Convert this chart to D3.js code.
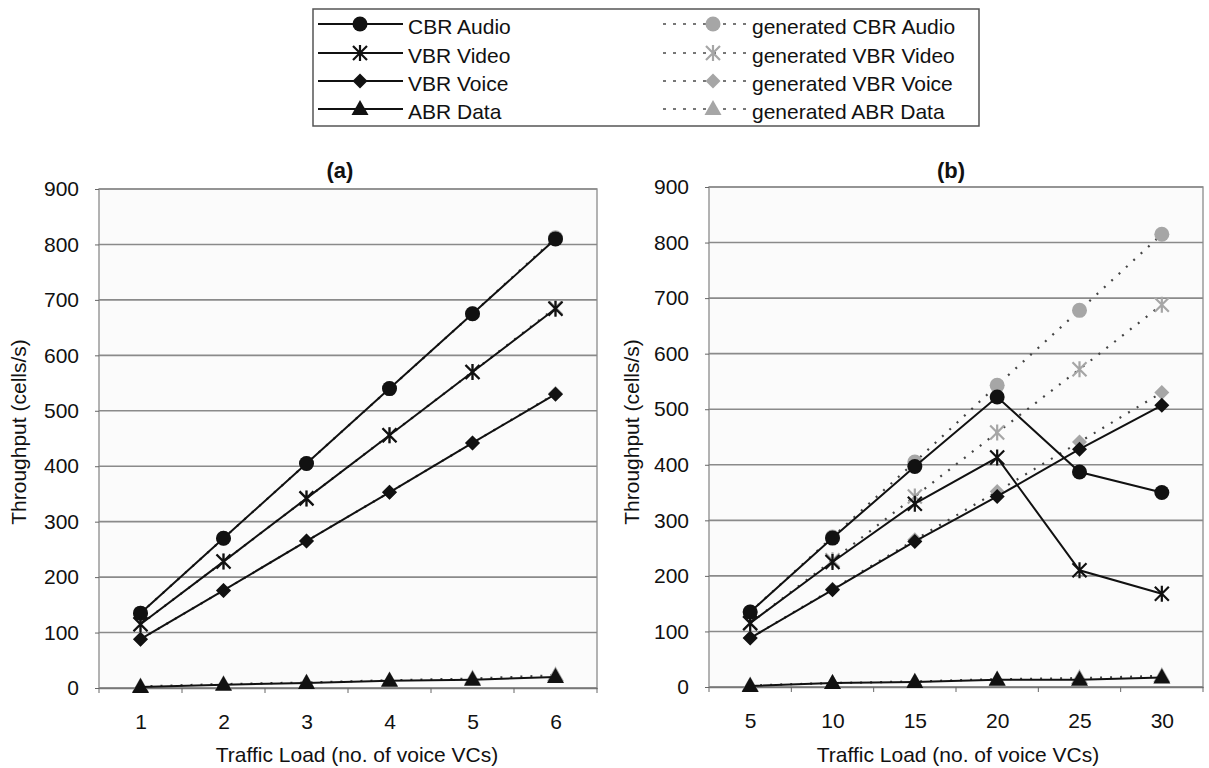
<!DOCTYPE html>
<html><head><meta charset="utf-8">
<script src="https://cdn.jsdelivr.net/npm/d3@7"></script>
<style>
body{margin:0;background:#fff;}
text{font-family:"Liberation Sans",Arial,sans-serif;fill:#111;}
</style></head><body>
<svg id="c" width="1209" height="768"></svg>
<script>
// ---- data ----
const seriesNames = ["CBR Audio","VBR Video","VBR Voice","ABR Data"];
const genNames = ["generated CBR Audio","generated VBR Video","generated VBR Voice","generated ABR Data"];
const yTicks = [0,100,200,300,400,500,600,700,800,900];

const catsA = [1,2,3,4,5,6];
const aCBR   = [135,270,405,540,675,810];
const aVideo = [115,228,342,456,570,684];
const aVoice = [88,176,265,353,442,530];
const aData  = [2,6,9,13,15,20];
const aGenCBR   = [135,270,405,540,675,812];
const aGenVideo = [115,228,342,456,570,686];
const aGenVoice = [88,176,265,353,442,531];
const aGenData  = [3,7,10,14,17,23];

const catsB = [5,10,15,20,25,30];
const bCBR   = [135,268,397,522,387,350];
const bVideo = [115,225,330,413,210,168];
const bVoice = [88,175,262,343,428,507];
const bData  = [2,7,9,13,13,17];
const bGenCBR   = [135,270,405,543,678,815];
const bGenVideo = [115,228,343,458,572,688];
const bGenVoice = [88,176,265,352,441,530];
const bGenData  = [3,7,10,14,16,20];

const svg = d3.select("#c");
const markerTypes = ["circle","star","diamond","triangle"];

function drawMarker(g, type, x, y, fill, stroke) {
  if (type === "circle") {
    g.append("circle").attr("cx", x).attr("cy", y).attr("r", 7.5).attr("fill", fill);
  } else if (type === "diamond") {
    const s = 7.5;
    g.append("path").attr("d", `M${x},${y-s}L${x+s},${y}L${x},${y+s}L${x-s},${y}Z`).attr("fill", fill);
  } else if (type === "triangle") {
    g.append("path").attr("d", `M${x},${y-9}L${x+8.5},${y+6}L${x-8.5},${y+6}Z`).attr("fill", fill);
  } else if (type === "star") {
    const s = 7;
    const p = `M${x-s},${y-s}L${x+s},${y+s}M${x-s},${y+s}L${x+s},${y-s}M${x},${y-s-1}L${x},${y+s+1}`;
    g.append("path").attr("d", p).attr("stroke", stroke).attr("stroke-width", 2.2).attr("fill", "none");
  }
}

function panel(cfg) {
  const g = svg.append("g");
  const x = d3.scalePoint().domain(cfg.cats).range([cfg.left, cfg.right]).padding(0.5);
  const y = d3.scaleLinear().domain([0, 900]).range([cfg.bottom, cfg.top]);
  g.append("rect").attr("x", cfg.left).attr("y", cfg.top).attr("width", cfg.right - cfg.left)
    .attr("height", cfg.bottom - cfg.top).attr("fill", "#fbfbfb").attr("stroke", "#9a9a9a").attr("stroke-width", 1.5);
  g.selectAll(".grid").data(yTicks).enter().append("line")
    .attr("x1", cfg.left).attr("x2", cfg.right).attr("y1", d => y(d)).attr("y2", d => y(d))
    .attr("stroke", "#8a8a8a").attr("stroke-width", 1.6);
  const ya = g.append("g").attr("transform", `translate(${cfg.left},0)`)
    .call(d3.axisLeft(y).tickValues(yTicks).tickSize(4).tickPadding(16));
  ya.select(".domain").remove();
  ya.selectAll("line").attr("stroke", "#666");
  ya.selectAll("text").style("font-size", "21px").attr("fill", "#111");
  const xa = g.append("g").attr("transform", `translate(0,${cfg.bottom})`)
    .call(d3.axisBottom(x).tickSize(0).tickPadding(26));
  xa.select(".domain").attr("stroke", "#777").attr("stroke-width", 1.5);
  xa.selectAll("text").style("font-size", "21px").attr("fill", "#111");
  const step = x.step();
  g.selectAll(".xt").data(cfg.cats).enter().append("line")
    .attr("x1", d => x(d) + step / 2).attr("x2", d => x(d) + step / 2)
    .attr("y1", cfg.bottom).attr("y2", cfg.bottom + 5).attr("stroke", "#666");
  g.append("line").attr("x1", cfg.left).attr("x2", cfg.left).attr("y1", cfg.bottom).attr("y2", cfg.bottom + 5).attr("stroke", "#666");

  const line = d3.line().x((d, i) => x(cfg.cats[i])).y(d => y(d));
  cfg.gen.forEach((vals, si) => {
    g.append("path").attr("d", line(vals)).attr("fill", "none").attr("stroke", "#444")
      .attr("stroke-width", 2.2).attr("stroke-dasharray", "2,8");
    vals.forEach((v, i) => drawMarker(g, markerTypes[si], x(cfg.cats[i]), y(v), "#a6a6a6", "#a6a6a6"));
  });
  cfg.series.forEach((vals, si) => {
    g.append("path").attr("d", line(vals)).attr("fill", "none").attr("stroke", "#111").attr("stroke-width", 2);
    vals.forEach((v, i) => drawMarker(g, markerTypes[si], x(cfg.cats[i]), y(v), "#111", "#111"));
  });
  g.append("text").attr("x", cfg.titleX).attr("y", 172).attr("text-anchor", "middle")
    .attr("dominant-baseline", "middle").style("font-size", "22px").style("font-weight", "bold").text(cfg.title);
  g.append("text").attr("x", cfg.xTitleX).attr("y", 756).attr("text-anchor", "middle")
    .attr("dominant-baseline", "middle").style("font-size", "21px").text("Traffic Load (no. of voice VCs)");
  g.append("text").attr("transform", `translate(${cfg.yTitleX},432) rotate(-90)`).attr("text-anchor", "middle")
    .attr("dominant-baseline", "middle").style("font-size", "21px").text("Throughput (cells/s)");
}

panel({cats: catsA, left: 99, right: 597, top: 189, bottom: 688,
  series: [aCBR, aVideo, aVoice, aData], gen: [aGenCBR, aGenVideo, aGenVoice, aGenData],
  title: "(a)", titleX: 340, xTitleX: 357, yTitleX: 20});
panel({cats: catsB, left: 709, right: 1203, top: 187, bottom: 687,
  series: [bCBR, bVideo, bVoice, bData], gen: [bGenCBR, bGenVideo, bGenVoice, bGenData],
  title: "(b)", titleX: 951, xTitleX: 958, yTitleX: 633});

const lg = svg.append("g");
lg.append("rect").attr("x", 313).attr("y", 9).attr("width", 666).attr("height", 117)
  .attr("fill", "#fff").attr("stroke", "#555").attr("stroke-width", 1.5);
const rowY = [24, 53, 81, 109];
seriesNames.forEach((n, i) => {
  lg.append("line").attr("x1", 318).attr("x2", 403).attr("y1", rowY[i]).attr("y2", rowY[i]).attr("stroke", "#111").attr("stroke-width", 2.2);
  drawMarker(lg, markerTypes[i], 360, rowY[i], "#111", "#111");
  lg.append("text").attr("x", 408).attr("y", rowY[i] + 4).attr("dominant-baseline", "middle").style("font-size", "21px").text(n);
});
genNames.forEach((n, i) => {
  lg.append("line").attr("x1", 663).attr("x2", 750).attr("y1", rowY[i]).attr("y2", rowY[i]).attr("stroke", "#777")
    .attr("stroke-width", 2).attr("stroke-dasharray", "3,7");
  drawMarker(lg, markerTypes[i], 713, rowY[i], "#a6a6a6", "#a6a6a6");
  lg.append("text").attr("x", 752).attr("y", rowY[i] + 4).attr("dominant-baseline", "middle").style("font-size", "21px").text(n);
});
</script></body></html>
